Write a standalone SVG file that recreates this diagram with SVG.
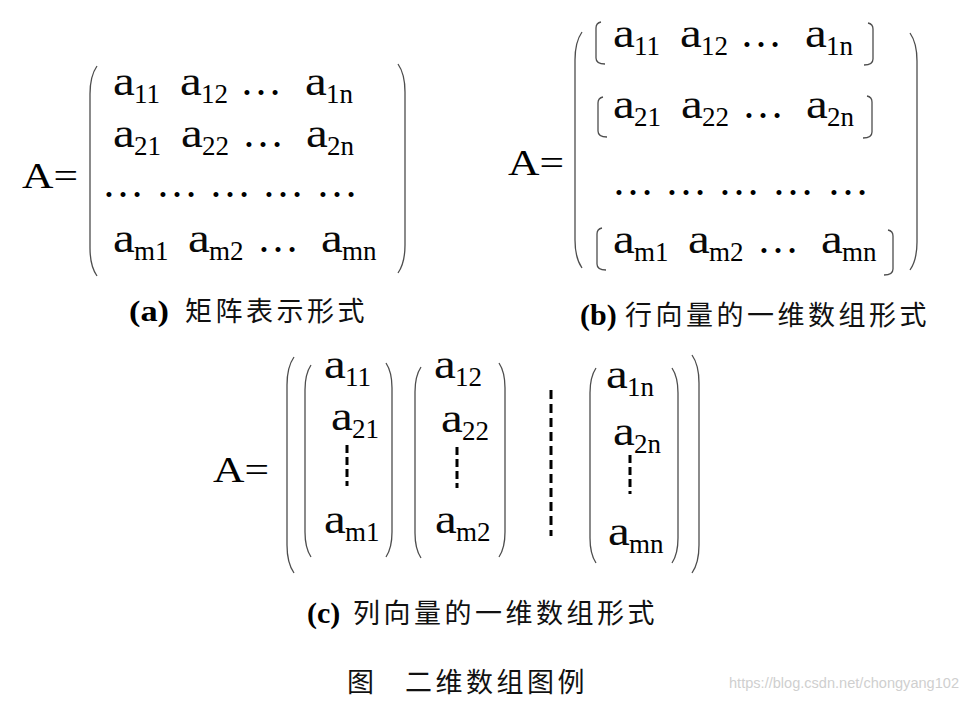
<svg xmlns="http://www.w3.org/2000/svg" width="963" height="709" viewBox="0 0 963 709">
<style>
.m{font-family:"Liberation Serif","Times New Roman",serif;fill:#000}
.a{font-size:42px;fill:#0a0a0a}
.s{font-size:27px}
.e{font-size:42px}
.A{font-size:36px}
.lb{font-family:"Liberation Serif","Times New Roman",serif;font-weight:bold;font-size:30px;fill:#000}
.zh{font-family:"Liberation Serif","Noto Sans CJK SC",sans-serif;font-size:27px;letter-spacing:3.5px;fill:#111}
.br{fill:none;stroke:#4d4d4d;stroke-width:1.3}
.ds{fill:none;stroke:#000;stroke-width:3;stroke-dasharray:8 4}
.wm{font-family:"Liberation Sans",Arial,sans-serif;font-size:14px;fill:#cfcfcf}
</style>
<rect width="963" height="709" fill="#fff"/>

<g id="panel-a">
  <text class="m A" x="22" y="188" textLength="56" lengthAdjust="spacingAndGlyphs">A=</text>
  <path class="br" d="M97,66 Q90,76 90,94 L90,248 Q90,266 97,276"/>
  <path class="br" d="M398,64 Q405,74 405,92 L405,245 Q405,263 398,273"/>
  <!-- row 1 -->
  <text class="m a" transform="translate(113,95) scale(1.17,1)">a</text><text class="m s" x="134" y="103">11</text>
  <text class="m a" transform="translate(180,95) scale(1.17,1)">a</text><text class="m s" x="201" y="103">12</text>
  <text class="m e" x="240" y="95">…</text>
  <text class="m a" transform="translate(305,95) scale(1.17,1)">a</text><text class="m s" x="326" y="103">1n</text>
  <!-- row 2 -->
  <text class="m a" transform="translate(113,147) scale(1.17,1)">a</text><text class="m s" x="134" y="155">21</text>
  <text class="m a" transform="translate(181,147) scale(1.17,1)">a</text><text class="m s" x="202" y="155">22</text>
  <text class="m e" x="242" y="147">…</text>
  <text class="m a" transform="translate(306,147) scale(1.17,1)">a</text><text class="m s" x="327" y="155">2n</text>
  <!-- row 3 -->
  <text class="m e" x="102" y="197">…</text>
  <text class="m e" x="156" y="197">…</text>
  <text class="m e" x="209" y="197">…</text>
  <text class="m e" x="262" y="197">…</text>
  <text class="m e" x="316" y="197">…</text>
  <!-- row 4 -->
  <text class="m a" transform="translate(113,252) scale(1.17,1)">a</text><text class="m s" x="134" y="260">m1</text>
  <text class="m a" transform="translate(188,252) scale(1.17,1)">a</text><text class="m s" x="209" y="260">m2</text>
  <text class="m e" x="257" y="252">…</text>
  <text class="m a" transform="translate(321,252) scale(1.17,1)">a</text><text class="m s" x="342" y="260">mn</text>
</g>

<g id="panel-b">
  <text class="m A" x="508" y="175" textLength="56" lengthAdjust="spacingAndGlyphs">A=</text>
  <path class="br" d="M582,32 Q575,42 575,60 L575,240 Q575,258 582,268"/>
  <path class="br" d="M910,33 Q917,43 917,61 L917,242 Q917,260 910,270"/>
  <!-- row brackets -->
  <path class="br" d="M601,22 Q596,23 596,28 L596,58 Q596,64 605,64"/>
  <path class="br" d="M868,23 Q873,24 873,29 L873,59 Q873,65 864,65"/>
  <path class="br" d="M603,97 Q598,98 598,103 L598,131 Q598,137 607,137"/>
  <path class="br" d="M867,96 Q872,97 872,102 L872,132 Q872,138 863,138"/>
  <path class="br" d="M602,228 Q597,229 597,234 L597,264 Q597,270 606,270"/>
  <path class="br" d="M888,230 Q893,231 893,236 L893,269 Q893,275 884,275"/>
  <!-- row 1 -->
  <text class="m a" transform="translate(613,47) scale(1.17,1)">a</text><text class="m s" x="634" y="55">11</text>
  <text class="m a" transform="translate(680,47) scale(1.17,1)">a</text><text class="m s" x="701" y="55">12</text>
  <text class="m e" x="740" y="47">…</text>
  <text class="m a" transform="translate(805,47) scale(1.17,1)">a</text><text class="m s" x="826" y="55">1n</text>
  <!-- row 2 -->
  <text class="m a" transform="translate(613,118) scale(1.17,1)">a</text><text class="m s" x="634" y="126">21</text>
  <text class="m a" transform="translate(681,118) scale(1.17,1)">a</text><text class="m s" x="702" y="126">22</text>
  <text class="m e" x="742" y="118">…</text>
  <text class="m a" transform="translate(806,118) scale(1.17,1)">a</text><text class="m s" x="827" y="126">2n</text>
  <!-- row 3 -->
  <text class="m e" x="612" y="195">…</text>
  <text class="m e" x="665" y="195">…</text>
  <text class="m e" x="718" y="195">…</text>
  <text class="m e" x="772" y="195">…</text>
  <text class="m e" x="827" y="195">…</text>
  <!-- row 4 -->
  <text class="m a" transform="translate(613,253) scale(1.17,1)">a</text><text class="m s" x="634" y="261">m1</text>
  <text class="m a" transform="translate(688,253) scale(1.17,1)">a</text><text class="m s" x="709" y="261">m2</text>
  <text class="m e" x="757" y="253">…</text>
  <text class="m a" transform="translate(821,253) scale(1.17,1)">a</text><text class="m s" x="842" y="261">mn</text>
</g>

<g id="panel-c">
  <text class="m A" x="213" y="482" textLength="56" lengthAdjust="spacingAndGlyphs">A=</text>
  <path class="br" d="M294,357 Q287,367 287,385 L287,545 Q287,563 294,573"/>
  <path class="br" d="M692,355 Q699,365 699,383 L699,545 Q699,563 692,573"/>
  <g id="col-1">
    <path class="br" d="M311,365 Q305,374 305,390 L305,532 Q305,548 311,557"/>
    <path class="br" d="M386,363 Q392,372 392,388 L392,532 Q392,548 386,557"/>
    <text class="m a" transform="translate(324,378) scale(1.17,1)">a</text><text class="m s" x="345" y="386">11</text>
    <text class="m a" transform="translate(331,430) scale(1.17,1)">a</text><text class="m s" x="352" y="438">21</text>
    <line class="ds" x1="347" y1="445" x2="347" y2="486"/>
    <text class="m a" transform="translate(324,533) scale(1.17,1)">a</text><text class="m s" x="345" y="541">m1</text>
  </g>
  <g id="col-2">
    <path class="br" d="M421,367 Q415,376 415,392 L415,533 Q415,549 421,558"/>
    <path class="br" d="M499,363 Q505,372 505,388 L505,532 Q505,548 499,557"/>
    <text class="m a" transform="translate(434,378) scale(1.17,1)">a</text><text class="m s" x="455" y="386">12</text>
    <text class="m a" transform="translate(441,432) scale(1.17,1)">a</text><text class="m s" x="462" y="440">22</text>
    <line class="ds" x1="457" y1="447" x2="457" y2="488"/>
    <text class="m a" transform="translate(435,533) scale(1.17,1)">a</text><text class="m s" x="456" y="541">m2</text>
  </g>
  <line class="ds" x1="551" y1="390" x2="551" y2="536" style="stroke-dasharray:9 5"/>
  <g id="col-n">
    <path class="br" d="M596,368 Q590,377 590,393 L590,538 Q590,554 596,563"/>
    <path class="br" d="M672,368 Q678,377 678,393 L678,538 Q678,554 672,563"/>
    <text class="m a" transform="translate(606,388) scale(1.17,1)">a</text><text class="m s" x="627" y="396">1n</text>
    <text class="m a" transform="translate(613,445) scale(1.17,1)">a</text><text class="m s" x="634" y="453">2n</text>
    <line class="ds" x1="630" y1="455" x2="630" y2="494"/>
    <text class="m a" transform="translate(608,545) scale(1.17,1)">a</text><text class="m s" x="629" y="553">mn</text>
  </g>
</g>

<g id="captions">
  <text class="lb" x="129" y="321" textLength="40" lengthAdjust="spacingAndGlyphs">(a)</text>
  <text class="zh" x="185" y="321">矩阵表示形式</text>
  <text class="lb" x="580" y="325">(b)</text>
  <text class="zh" x="625" y="325">行向量的一维数组形式</text>
  <text class="lb" x="307" y="623">(c)</text>
  <text class="zh" x="353" y="623">列向量的一维数组形式</text>
  <text class="zh" x="347" y="692">图</text>
  <text class="zh" x="405" y="692">二维数组图例</text>
  <text class="wm" x="729" y="688" textLength="230" lengthAdjust="spacingAndGlyphs">https://blog.csdn.net/chongyang102</text>
</g>
</svg>
